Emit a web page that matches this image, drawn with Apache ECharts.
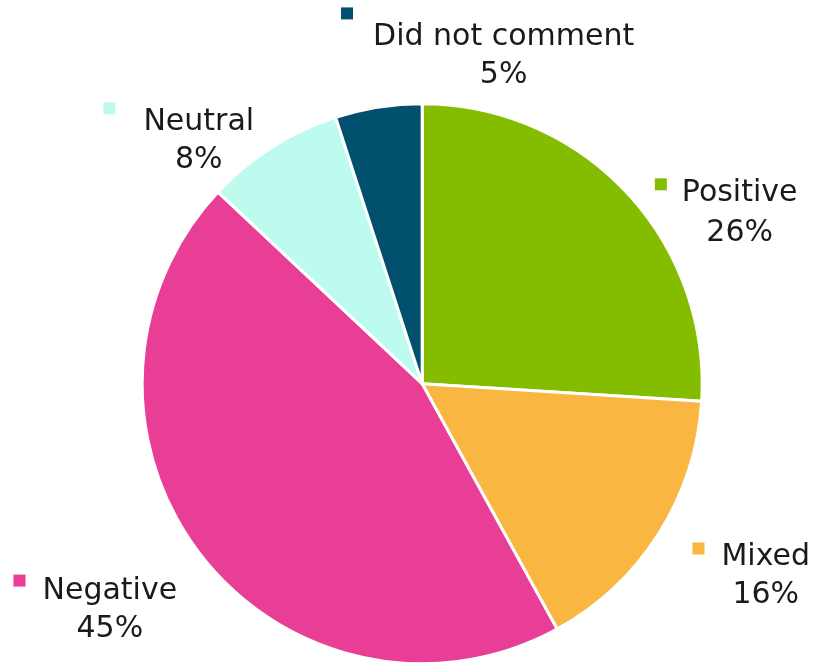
<!DOCTYPE html>
<html>
<head>
<meta charset="utf-8">
<script src="https://cdn.jsdelivr.net/npm/echarts@6/dist/echarts.min.js"></script>
<style>
  html, body { margin: 0; padding: 0; background: #ffffff; }
  #chart { width: 815px; height: 665px; }
</style>
</head>
<body>
<div id="chart"></div>
<script>
// Share of responses by sentiment
const categories = ['Positive', 'Mixed', 'Negative', 'Neutral', 'Did not comment'];
const shares = [26, 16, 45, 8, 5];
const colors = ['#84bd00', '#f9b640', '#e83e96', '#bdfbee', '#00506e'];
// Label tweaks per slice: nudge [dx, dy] from the default outside anchor,
// gap between key square and text, height of the first text line
const labelNudge = [[9, 40], [12, 36], [-3, 45], [54, -41], [264, -42]];
const keyGap = [15, 17, 17, 28, 20];
const firstLine = [26, 30, 34, 40, 60];

const chart = echarts.init(document.getElementById('chart'));

const txt = { fontFamily: 'DejaVu Sans', fontSize: 30, color: '#1a1a1a', align: 'center' };

const data = categories.map((name, i) => ({
  name: name,
  value: shares[i],
  itemStyle: { color: colors[i] },
  label: {
    rich: {
      m: { backgroundColor: colors[i], width: 12, height: 12, verticalAlign: 'top', align: 'center' },
      gap: { width: keyGap[i], align: 'center' },
      n: Object.assign({}, txt, { lineHeight: firstLine[i] }),
      v: Object.assign({}, txt, { lineHeight: 76 - firstLine[i], padding: [0, 0, 0, keyGap[i] + 12] })
    }
  }
}));

chart.setOption({
  animation: false,
  series: [{
    type: 'pie',
    center: ['51.8%', '57.7%'],
    radius: 280,
    startAngle: 90,
    clockwise: true,
    data: data,
    itemStyle: { borderColor: '#ffffff', borderWidth: 3 },
    label: {
      show: true,
      position: 'outside',
      alignTo: 'none',
      formatter: p => '{m|}{gap|}{n|' + p.name + '}\n{v|' + p.value + '%}',
      fontFamily: 'DejaVu Sans',
      fontSize: 30,
      color: '#1a1a1a'
    },
    labelLine: { show: false, length: 20, length2: 0 },
    labelLayout: p => ({ dx: labelNudge[p.dataIndex][0], dy: labelNudge[p.dataIndex][1] })
  }]
});
</script>
</body>
</html>
